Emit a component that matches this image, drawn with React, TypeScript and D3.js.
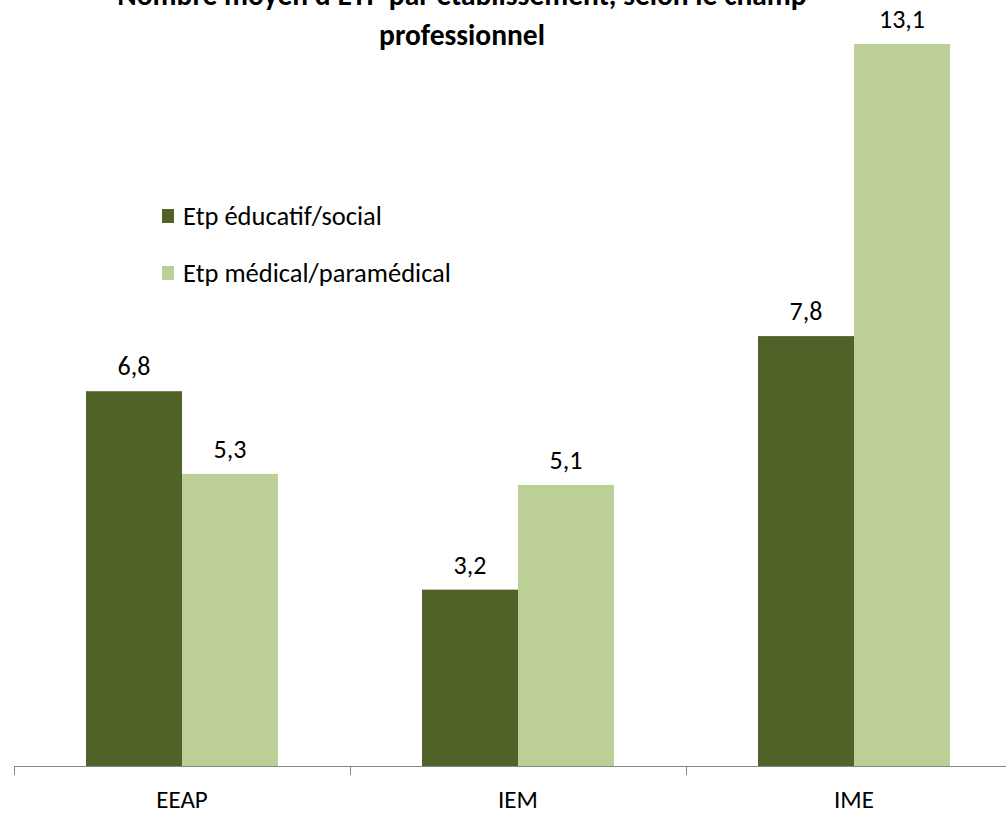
import React from "react";
import * as d3 from "d3";

const categories = ["EEAP", "IEM", "IME"];
const seriesNames = ["Etp éducatif/social", "Etp médical/paramédical"];
const educatifSocial = [6.8, 3.2, 7.8];
const medicalParamedical = [5.3, 5.1, 13.1];
const seriesColors = ["#4f6228", "#bbcf97"];
const titleLines = ["Nombre moyen d'ETP par établissement, selon le champ", "professionnel"];

const W = 1006;
const H = 816;
const FONT = "Carlito, Calibri, Lato, 'Liberation Sans', sans-serif";

export default function App() {
  const axisY = 766;
  const x0 = d3.scaleBand<string>().domain(categories).range([14, 1022]).paddingInner(0).paddingOuter(0);
  const x1 = d3.scaleBand<number>().domain([0, 1]).range([0, x0.bandwidth()]).paddingOuter(0.75).paddingInner(0);
  const pxPerUnit = 722 / 13.1;
  const y = d3.scaleLinear().domain([0, 14]).range([axisY, axisY - 14 * pxPerUnit]);
  const series = [educatifSocial, medicalParamedical];
  const fmt = (v: number) => d3.format(".1f")(v).replace(".", ",");

  return (
    <svg width={W} height={H} style={{ position: "absolute", left: 0, top: 0, background: "#fff" }} fontFamily={FONT}>
      <rect width={W} height={H} fill="#fff" />
      <g fontWeight="bold" fontSize={29.5} textAnchor="middle" fill="#000">
        {titleLines.map((t, i) => (
          <text key={i} x={462} y={5 + i * 40}>{t}</text>
        ))}
      </g>
      {series.map((vals, s) =>
        categories.map((c, i) => {
          const bx = (x0(c) ?? 0) + (x1(s) ?? 0);
          const by = y(vals[i]);
          return (
            <g key={`${s}-${i}`}>
              <rect x={bx} y={by} width={x1.bandwidth()} height={axisY - by} fill={seriesColors[s]} />
              <text x={bx + x1.bandwidth() / 2} y={by - 16} textAnchor="middle" fontSize={26} fill="#000">
                {fmt(vals[i])}
              </text>
            </g>
          );
        })
      )}
      <line x1={14} x2={W} y1={axisY + 0.5} y2={axisY + 0.5} stroke="#868686" strokeWidth={1.2} />
      {categories.map((c) => (
        <line key={c} x1={(x0(c) ?? 0) + 0.5} x2={(x0(c) ?? 0) + 0.5} y1={axisY} y2={axisY + 9} stroke="#868686" />
      ))}
      {categories.map((c) => (
        <text key={c} x={(x0(c) ?? 0) + x0.bandwidth() / 2} y={808} textAnchor="middle" fontSize={25} fill="#000">
          {c}
        </text>
      ))}
      {seriesNames.map((n, i) => (
        <g key={n}>
          <rect x={162} y={209 + i * 57} width={12} height={14} fill={seriesColors[i]} />
          <text x={183} y={225 + i * 57} fontSize={26.5} fill="#000">{n}</text>
        </g>
      ))}
    </svg>
  );
}
